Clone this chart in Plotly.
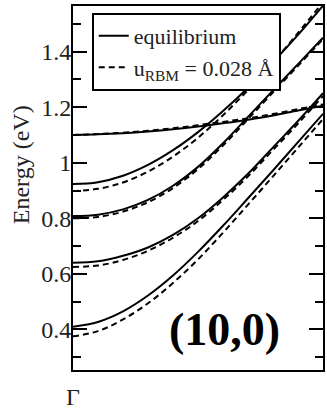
import plotly.graph_objects as go

# Wave-vector grid along the zone axis, starting at Gamma
k = [0.0, 0.1, 0.2, 0.3, 0.4, 0.5, 0.6, 0.7, 0.8, 0.9, 1.0]

# Band energies (eV), equilibrium geometry
eq_band1 = [0.41, 0.427, 0.465, 0.522, 0.594, 0.679, 0.773, 0.872, 0.972, 1.074, 1.176]
eq_band2 = [0.64, 0.645, 0.665, 0.695, 0.74, 0.80, 0.875, 0.96, 1.055, 1.15, 1.25]
eq_band3 = [0.808, 0.813, 0.832, 0.866, 0.917, 0.985, 1.07, 1.165, 1.26, 1.355, 1.45]
eq_band4 = [0.923, 0.93, 0.953, 0.992, 1.045, 1.11, 1.186, 1.27, 1.362, 1.46, 1.565]
eq_band5 = [1.10, 1.102, 1.106, 1.112, 1.12, 1.13, 1.142, 1.155, 1.17, 1.188, 1.205]

# Band energies (eV) with the radial breathing mode displaced
rbm_band1 = [0.375, 0.394, 0.436, 0.494, 0.567, 0.652, 0.748, 0.849, 0.951, 1.054, 1.157]
rbm_band2 = [0.625, 0.63, 0.65, 0.683, 0.73, 0.79, 0.866, 0.951, 1.046, 1.141, 1.24]
rbm_band3 = [0.80, 0.805, 0.824, 0.858, 0.909, 0.977, 1.062, 1.157, 1.253, 1.349, 1.445]
rbm_band4 = [0.898, 0.906, 0.929, 0.968, 1.022, 1.09, 1.171, 1.262, 1.361, 1.467, 1.578]
rbm_band5 = [1.10, 1.103, 1.108, 1.115, 1.124, 1.135, 1.147, 1.16, 1.175, 1.193, 1.21]

eq_bands = [eq_band1, eq_band2, eq_band3, eq_band4, eq_band5]
rbm_bands = [rbm_band1, rbm_band2, rbm_band3, rbm_band4, rbm_band5]

y_ticks = [0.4, 0.6, 0.8, 1.0, 1.2, 1.4]
y_tick_labels = ["0.4", "0.6", "0.8", "1", "1.2", "1.4"]
y_minor = [0.3, 0.5, 0.7, 0.9, 1.1, 1.3, 1.5]

SERIF = "Liberation Serif"
TEXT = "#222"

fig = go.Figure()
for i, band in enumerate(eq_bands):
    fig.add_trace(go.Scatter(
        x=k, y=band, mode="lines", line=dict(color="black", width=2, shape="spline"),
        name="equilibrium", legendgroup="eq", showlegend=(i == 0)))
for i, band in enumerate(rbm_bands):
    fig.add_trace(go.Scatter(
        x=k, y=band, mode="lines",
        line=dict(color="black", width=2, dash="6px,4px", shape="spline"),
        name="u<sub>RBM</sub> = 0.028 Å", legendgroup="rbm", showlegend=(i == 0)))

fig.update_layout(
    width=327, height=412,
    margin=dict(l=73, r=2, t=6, b=30),
    paper_bgcolor="white", plot_bgcolor="white",
    font=dict(family=SERIF, size=22, color=TEXT),
    legend=dict(
        x=0.075, y=0.981, xanchor="left", yanchor="top",
        bordercolor="black", borderwidth=2, bgcolor="white",
        font=dict(family=SERIF, size=22, color=TEXT),
        itemwidth=30, tracegroupgap=0,
    ),
    annotations=[
        dict(text="<b>(10,0)</b>", x=0.607, y=0.112, xref="paper", yref="paper",
             xanchor="center", yanchor="middle",
             showarrow=False, font=dict(family=SERIF, size=46, color="black")),
        dict(text="Energy (eV)", textangle=-90, x=-0.21, y=0.564,
             xref="paper", yref="paper", xanchor="center", yanchor="middle",
             showarrow=False, font=dict(family=SERIF, size=24, color=TEXT)),
    ],
)

fig.update_xaxes(
    range=[0, 1], showgrid=False, zeroline=False,
    showline=True, linecolor="black", linewidth=2, mirror=True,
    tickvals=[0], ticktext=["Γ"], ticks="",
    tickfont=dict(family=SERIF, size=24, color=TEXT),
    ticklabelstandoff=4,
)
fig.update_yaxes(
    range=[0.254, 1.564], showgrid=False, zeroline=False,
    showline=True, linecolor="black", linewidth=2, mirror="allticks",
    tickvals=y_ticks, ticktext=y_tick_labels,
    ticks="inside", ticklen=14, tickwidth=2, tickcolor="black",
    minor=dict(tickvals=y_minor, ticks="inside", ticklen=8, tickwidth=2, tickcolor="black"),
    tickfont=dict(family=SERIF, size=24, color=TEXT),
    ticklabelstandoff=-5,
)

fig.write_html("out.html")
